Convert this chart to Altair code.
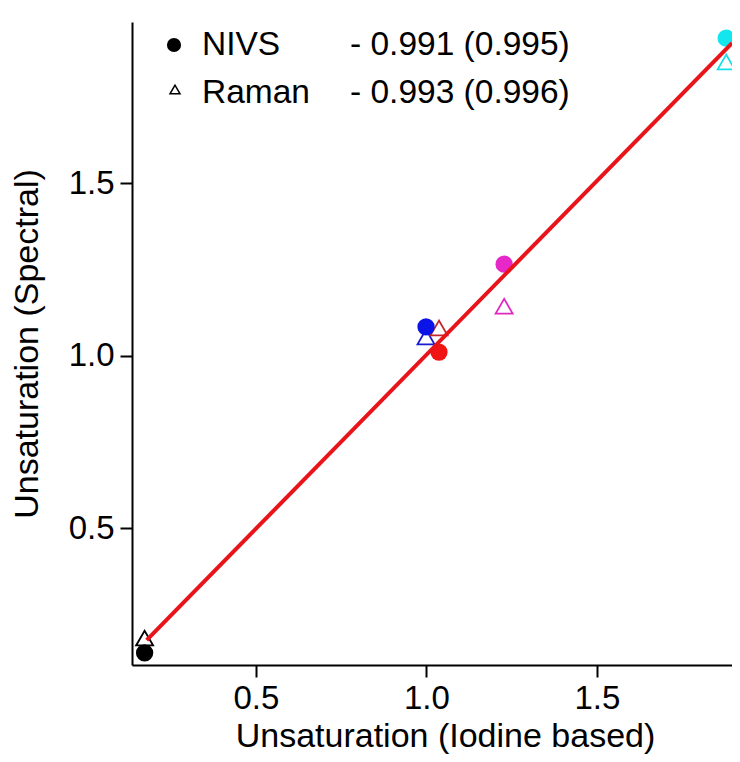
import altair as alt
import pandas as pd

# ---- data ----
samples = ["S1", "S2", "S3", "S4", "S5"]
iodine = [0.174, 0.999, 1.037, 1.228, 1.879]          # x: unsaturation (iodine based)
nivs = [0.138, 1.083, 1.010, 1.265, 1.920]            # y: NIVS spectral
raman = [0.181, 1.054, 1.080, 1.143, 1.851]           # y: Raman spectral
nivs_colors = ["#000000", "#0a14e6", "#f01414", "#e628c8", "#14e6ee"]
raman_colors = ["#000000", "#1a1ad0", "#c0282e", "#e028c0", "#14e0ea"]
fit_x = [0.18, 1.896]
fit_y = [0.175, 1.906]
legend_methods = ["NIVS", "Raman"]
legend_r = ["- 0.991 (0.995)", "- 0.993 (0.996)"]
x_ticks = [0.5, 1.0, 1.5]
y_ticks = [0.5, 1.0, 1.5]

FONT = "Liberation Sans"

df_n = pd.DataFrame({"sample": samples, "x": iodine, "y": nivs, "c": nivs_colors})
df_r = pd.DataFrame({"sample": samples, "x": iodine, "y": raman, "c": raman_colors})
df_fit = pd.DataFrame({"x": fit_x, "y": fit_y})

xs = alt.Scale(domain=[0.137, 1.896], nice=False, zero=False)
ys = alt.Scale(domain=[0.103, 1.967], nice=False, zero=False)

x_enc = alt.X("x:Q", scale=xs, axis=alt.Axis(
    values=x_ticks, format=".1f", title="Unsaturation (Iodine based)",
    labelBaseline="alphabetic", labelPadding=31, tickSize=12,
    titleX=313, titleY=81, titleBaseline="alphabetic", titleAlign="center",
    titleAnchor="start"))
y_enc = alt.Y("y:Q", scale=ys, axis=alt.Axis(
    values=y_ticks, format=".1f", title="Unsaturation (Spectral)",
    labelPadding=6, tickSize=12, titleAngle=270, titleX=-95,
    titleBaseline="alphabetic"))

pts_n = alt.Chart(df_n).mark_point(shape="circle", filled=True, size=300,
                                   opacity=1, clip=True).encode(
    x=x_enc, y=y_enc, color=alt.Color("c:N", scale=None))
pts_r = alt.Chart(df_r).mark_point(shape="triangle-up", filled=False, size=290,
                                   strokeWidth=1.8, opacity=1, clip=True).encode(
    x=x_enc, y=y_enc, color=alt.Color("c:N", scale=None))
fit = alt.Chart(df_fit).mark_line(color="#e8141a", strokeWidth=4, clip=True).encode(
    x=x_enc, y=y_enc)

one = pd.DataFrame({"k": [0]})
leg_layers = []
leg_shapes = [("circle", True, 200), ("triangle-up", False, 100)]
leg_sym_x = [42, 43]
leg_sym_y = [23, 67.5]
leg_text_y = [33, 81]
for i, m in enumerate(legend_methods):
    shp, filled, sz = leg_shapes[i]
    leg_layers.append(alt.Chart(one).mark_point(
        shape=shp, filled=filled, size=sz, color="black", opacity=1,
        strokeWidth=1.5).encode(x=alt.value(leg_sym_x[i]), y=alt.value(leg_sym_y[i])))
    leg_layers.append(alt.Chart(one).mark_text(
        font=FONT, fontSize=33.5, align="left", baseline="alphabetic",
        color="black").encode(x=alt.value(70), y=alt.value(leg_text_y[i]),
                              text=alt.value(m)))
    leg_layers.append(alt.Chart(one).mark_text(
        font=FONT, fontSize=33.5, align="left", baseline="alphabetic",
        color="black").encode(x=alt.value(218), y=alt.value(leg_text_y[i]),
                              text=alt.value(legend_r[i])))

chart = alt.layer(pts_r, pts_n, fit, *leg_layers).properties(
    width=600, height=643,
    autosize=alt.AutoSizeParams(type="none"),
    padding={"left": 124, "top": 14, "right": 0, "bottom": 89},
).configure_view(stroke=None).configure_axis(
    grid=False, domainColor="black", domainWidth=2, tickColor="black",
    tickWidth=2, labelFont=FONT, labelFontSize=33, labelColor="black",
    titleFont=FONT, titleFontSize=34, titleColor="black", titleFontWeight="normal",
    labelFlush=False, labelOverlap=False)

chart.save("out.html", embed_options={"renderer": "svg", "actions": False})
